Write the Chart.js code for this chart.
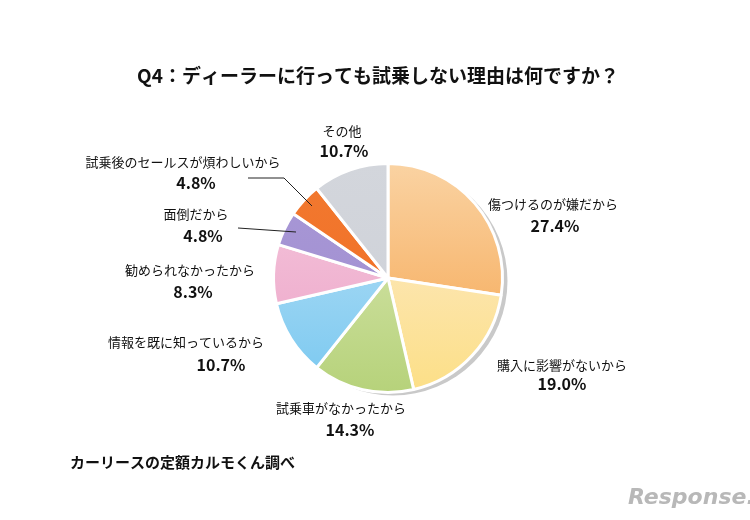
<!DOCTYPE html>
<html>
<head>
<meta charset="utf-8">
<script src="https://cdn.jsdelivr.net/npm/chart.js@4"></script>
<style>
	body { margin: 0; background: #fff; }
	#wrap { width: 750px; height: 520px; position: relative; }
</style>
</head>
<body>
<div id="wrap"><canvas id="pie"></canvas></div>
<script>
//data
const labels = ["傷つけるのが嫌だから", "購入に影響がないから", "試乗車がなかったから", "情報を既に知っているから", "勧められなかったから", "面倒だから", "試乗後のセールスが煩わしいから", "その他"];
const values = [27.4, 19.0, 14.3, 10.7, 8.3, 4.8, 4.8, 10.7];
const percentText = ["27.4%", "19.0%", "14.3%", "10.7%", "8.3%", "4.8%", "4.8%", "10.7%"];

// slice colours, top -> bottom of each gradient
const colorTop = ["#fad3a3", "#fdebd2", "#dde9b8", "#bfe2f6", "#f5c9de", "#a898d6", "#f27a30", "#d3d6dc"];
const colorBottom = ["#f5a24a", "#fcdf86", "#b6d27a", "#78c8f0", "#eca2c6", "#a08dd0", "#f06a22", "#cdd0d7"];

// label positions [name x, name y, pct x, pct y]
const labelPos = [
	[553, 204, 555, 226],
	[562, 365, 562, 384],
	[341, 408, 350, 430],
	[186, 342, 221, 365],
	[190, 270, 193, 292],
	[196, 214, 203, 236],
	[183, 162, 196, 183],
	[342, 131, 344, 151],
];

const Font = "'Noto Sans CJK JP', 'Noto Sans', sans-serif";

//plugin shadow + texts
const decor = {
	id: "decor",
	beforeDatasetsDraw(chart) {
		const arc = chart.getDatasetMeta(0).data[0];
		const ctx = chart.ctx;
		ctx.save();
		ctx.fillStyle = "#c9c9c9";
		ctx.beginPath();
		ctx.arc(arc.x + 5, arc.y + 3, arc.outerRadius, 0, Math.PI * 2);
		ctx.fill();
		ctx.restore();
	},
	afterDraw(chart) {
		const ctx = chart.ctx;
		ctx.save();
		ctx.fillStyle = "#111";
		ctx.textAlign = "center";
		ctx.textBaseline = "middle";
		ctx.font = "bold 19px " + Font;
		ctx.fillText("Q4：ディーラーに行っても試乗しない理由は何ですか？", 378, 76);
		labels.forEach((t, i) => {
			const p = labelPos[i];
			ctx.font = "13px " + Font;
			ctx.fillText(t, p[0], p[1]);
			ctx.font = "bold 16px " + Font;
			ctx.fillText(percentText[i], p[2], p[3]);
		});
		ctx.textAlign = "left";
		ctx.font = "bold 15px " + Font;
		ctx.fillText("カーリースの定額カルモくん調べ", 70, 462);
		ctx.font = "italic bold 22px 'DejaVu Sans', sans-serif";
		ctx.fillStyle = "#b8b8b8";
		ctx.fillText("Response.", 628, 498);
		//leader lines
		ctx.strokeStyle = "#222";
		ctx.lineWidth = 1;
		ctx.beginPath();
		ctx.moveTo(248, 178);
		ctx.lineTo(284, 178);
		ctx.lineTo(312, 206);
		ctx.moveTo(238, 228);
		ctx.lineTo(296, 232);
		ctx.stroke();
		ctx.restore();
	},
};

let pie = document.getElementById("pie").getContext("2d");
let pieChart = new Chart(pie, {
	type: "pie",
	data: {
		labels: labels,
		datasets: [
			{
				data: values,
				borderColor: "#fff",
				borderWidth: 3,
				backgroundColor: function (c) {
					const area = c.chart.chartArea;
					if (!area) return colorBottom[c.dataIndex];
					const g = c.chart.ctx.createLinearGradient(0, area.top, 0, area.bottom);
					g.addColorStop(0, colorTop[c.dataIndex]);
					g.addColorStop(1, colorBottom[c.dataIndex]);
					return g;
				},
			},
		],
	},
	options: {
		responsive: true,
		maintainAspectRatio: false,
		animation: false,
		layout: {
			padding: { left: 272, right: 246, top: 162, bottom: 126 },
		},
		plugins: {
			legend: { display: false },
			tooltip: { enabled: false },
		},
	},
	plugins: [decor],
});
</script>
</body>
</html>
